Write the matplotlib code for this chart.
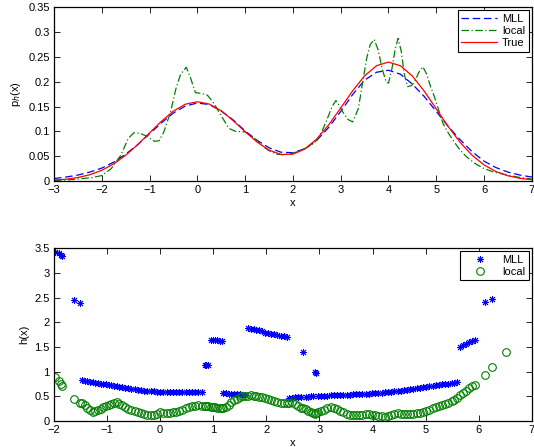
import numpy as np
import matplotlib
matplotlib.use("Agg")
import matplotlib.pyplot as plt

plt.rcParams['font.family'] = ['Liberation Sans', 'DejaVu Sans']
plt.rcParams['font.size'] = 8

# --- oberes Bild: Dichteschaetzung ---
x_true = [-3.0, -2.75, -2.5, -2.25, -2.0, -1.75, -1.5, -1.25, -1.0, -0.75, -0.5, -0.25,
          0.0, 0.25, 0.5, 0.75, 1.0, 1.25, 1.5, 1.75, 2.0, 2.25, 2.5, 2.75, 3.0, 3.25,
          3.5, 3.75, 4.0, 4.25, 4.5, 4.75, 5.0, 5.25, 5.5, 5.75, 6.0, 6.25, 6.5, 6.75, 7.0]
p_true = [0.002, 0.0036, 0.007, 0.0127, 0.0216, 0.0345, 0.0518, 0.073, 0.0968, 0.1204,
          0.1408, 0.1547, 0.1596, 0.1549, 0.1413, 0.1216, 0.0994, 0.0785, 0.0623, 0.0535,
          0.054, 0.0645, 0.0847, 0.1132, 0.147, 0.1815, 0.2117, 0.2322, 0.2394, 0.232,
          0.2113, 0.1807, 0.1452, 0.1096, 0.0777, 0.0518, 0.0324, 0.019, 0.0105, 0.0055, 0.0026]
p_mll = [0.005, 0.008, 0.012, 0.018, 0.026, 0.038, 0.054, 0.073, 0.095, 0.117,
         0.137, 0.151, 0.157, 0.154, 0.141, 0.123, 0.101, 0.082, 0.067, 0.058,
         0.057, 0.065, 0.082, 0.108, 0.140, 0.174, 0.203, 0.219, 0.223, 0.215,
         0.195, 0.170, 0.140, 0.110, 0.083, 0.059, 0.040, 0.027, 0.018, 0.012, 0.008]

x_loc = [-3.0, -2.6, -2.4, -2.2, -2.0, -1.8, -1.6, -1.45, -1.33, -1.2, -1.05, -0.9, -0.8,
         -0.7, -0.56, -0.45, -0.35, -0.23, -0.14, -0.04, 0.1, 0.21, 0.35, 0.49, 0.66, 0.8,
         1.0, 1.1, 1.25, 1.38, 1.52, 1.66, 1.8, 1.94, 2.1, 2.22, 2.38, 2.5, 2.6, 2.71,
         2.82, 2.9, 2.97, 3.05, 3.15, 3.25, 3.37, 3.47, 3.55, 3.62, 3.7, 3.78, 3.87, 3.95,
         4.0, 4.07, 4.14, 4.2, 4.27, 4.33, 4.4, 4.48, 4.55, 4.63, 4.72, 4.8, 4.88, 4.96,
         5.05, 5.14, 5.25, 5.35, 5.5, 5.63, 5.8, 5.98, 6.2, 6.4, 6.7, 7.0]
p_loc = [0.001, 0.003, 0.005, 0.007, 0.011, 0.025, 0.052, 0.085, 0.097, 0.096, 0.090, 0.080, 0.081,
         0.099, 0.139, 0.185, 0.215, 0.229, 0.207, 0.178, 0.176, 0.173, 0.156, 0.133, 0.106, 0.100,
         0.099, 0.093, 0.082, 0.069, 0.060, 0.054, 0.053, 0.055, 0.059, 0.064, 0.072, 0.082, 0.098, 0.123,
         0.150, 0.162, 0.152, 0.138, 0.124, 0.119, 0.146, 0.205, 0.250, 0.275, 0.285, 0.265, 0.225, 0.200,
         0.197, 0.225, 0.265, 0.287, 0.260, 0.215, 0.190, 0.192, 0.200, 0.218, 0.230, 0.215, 0.190, 0.170,
         0.143, 0.116, 0.097, 0.082, 0.062, 0.049, 0.036, 0.026, 0.018, 0.014, 0.008, 0.004]

# --- unteres Bild: Bandbreiten an den Stichprobenpunkten ---
x_s = [-1.98, -1.91, -1.87, -1.84, -1.62, -1.51,
       -1.47, -1.42, -1.37, -1.32, -1.27, -1.22, -1.17, -1.12, -1.07, -1.02, -0.97, -0.92,
       -0.87, -0.82, -0.77, -0.72, -0.66, -0.60, -0.54, -0.48, -0.42, -0.36, -0.30, -0.24,
       -0.18, -0.12, -0.06, 0.00, 0.06, 0.12, 0.18, 0.24, 0.30, 0.36, 0.42, 0.48, 0.54,
       0.60, 0.66, 0.72, 0.78,
       0.84, 0.87, 0.90,
       0.96, 1.00, 1.04, 1.08, 1.12, 1.16,
       1.19, 1.24, 1.29, 1.34, 1.39, 1.44, 1.50, 1.55, 1.60,
       1.66, 1.71, 1.76, 1.81, 1.86, 1.91,
       1.97, 2.03, 2.09, 2.15, 2.21, 2.27, 2.33, 2.38,
       2.42, 2.48, 2.54, 2.60, 2.66,
       2.69,
       2.74, 2.79, 2.84, 2.88,
       2.91, 2.93,
       2.97, 3.03, 3.09, 3.15, 3.21, 3.27, 3.33, 3.39, 3.45, 3.51, 3.57, 3.63, 3.69, 3.75,
       3.81, 3.87, 3.93, 3.99, 4.05, 4.11, 4.17, 4.23, 4.29, 4.35, 4.41, 4.47, 4.53, 4.59,
       4.65, 4.71, 4.77, 4.83, 4.89, 4.95, 5.01, 5.07, 5.13, 5.19, 5.25, 5.31, 5.37, 5.43,
       5.49, 5.54, 5.59,
       5.64, 5.70, 5.76, 5.82, 5.88, 5.93,
       6.12, 6.25, 6.51]
h_mll = [3.43, 3.40, 3.36, 3.34, 2.44, 2.39,
         0.83, 0.82, 0.81, 0.80, 0.79, 0.78, 0.77, 0.76, 0.75, 0.74, 0.73, 0.72,
         0.71, 0.70, 0.69, 0.68, 0.67, 0.66, 0.65, 0.64, 0.63, 0.62, 0.615, 0.61,
         0.605, 0.60, 0.595, 0.59, 0.59, 0.585, 0.585, 0.585, 0.58, 0.58, 0.58, 0.58, 0.58,
         0.58, 0.58, 0.58, 0.58,
         1.13, 1.14, 1.13,
         1.65, 1.65, 1.64, 1.64, 1.63, 1.63,
         0.56, 0.56, 0.55, 0.55, 0.55, 0.54, 0.54, 0.53, 0.53,
         1.88, 1.87, 1.86, 1.85, 1.84, 1.83,
         1.79, 1.78, 1.77, 1.76, 1.74, 1.73, 1.72, 1.71,
         0.47, 0.47, 0.48, 0.48, 0.48,
         1.40,
         0.49, 0.49, 0.50, 0.50,
         0.99, 0.98,
         0.51, 0.51, 0.51, 0.51, 0.52, 0.52, 0.52, 0.52, 0.53, 0.53, 0.53, 0.54, 0.54, 0.54,
         0.55, 0.55, 0.55, 0.56, 0.56, 0.57, 0.57, 0.58, 0.58, 0.59, 0.60, 0.61, 0.61, 0.62,
         0.63, 0.64, 0.65, 0.66, 0.67, 0.68, 0.69, 0.70, 0.71, 0.72, 0.73, 0.74, 0.75, 0.76,
         0.77, 0.78, 0.80,
         1.50, 1.53, 1.56, 1.59, 1.62, 1.64,
         2.41, 2.47, np.nan]
h_loc = [0.90, 0.81, 0.76, 0.71, 0.44, 0.37,
         0.36, 0.33, 0.27, 0.22, 0.18, 0.20, 0.23, 0.25, 0.28, 0.31, 0.33, 0.35,
         0.37, 0.38, 0.35, 0.32, 0.28, 0.25, 0.22, 0.20, 0.18, 0.17, 0.15, 0.13,
         0.12, 0.12, 0.15, 0.19, 0.17, 0.16, 0.17, 0.18, 0.19, 0.20, 0.23, 0.27, 0.29,
         0.30, 0.31, 0.32, 0.31,
         0.30, 0.31, 0.30,
         0.29, 0.28, 0.28, 0.27, 0.26, 0.26,
         0.26, 0.29, 0.33, 0.38, 0.42, 0.45, 0.48, 0.50, 0.51,
         0.51, 0.52, 0.51, 0.50, 0.49, 0.48,
         0.46, 0.44, 0.42, 0.40, 0.38, 0.37, 0.36, 0.36,
         0.37, 0.38, 0.35, 0.31, 0.27,
         0.26,
         0.24, 0.21, 0.18, 0.16,
         0.15, 0.16,
         0.18, 0.21, 0.23, 0.26, 0.29, 0.27, 0.24, 0.21, 0.18, 0.15, 0.13, 0.12, 0.12, 0.13,
         0.13, 0.14, 0.14, 0.13, 0.12, 0.11, 0.10, 0.09, 0.11, 0.13, 0.15, 0.16, 0.15, 0.14,
         0.14, 0.14, 0.15, 0.16, 0.17, 0.18, 0.20, 0.23, 0.26, 0.29, 0.31, 0.33, 0.35, 0.37,
         0.40, 0.43, 0.46,
         0.52, 0.56, 0.61, 0.66, 0.70, 0.73,
         0.93, 1.09, 1.40]

blau = (0, 0, 1)
gruen = (0, 0.5, 0)
rot = (1, 0, 0)

fig = plt.figure(figsize=(5.34, 4.47), dpi=100)
ax1 = fig.add_axes([0.101, 0.595, 0.895, 0.389])
ax2 = fig.add_axes([0.101, 0.058, 0.895, 0.387])

ax1.plot(x_true, p_mll, color=blau, lw=0.9, dashes=(6, 3), label='MLL')
ax1.plot(x_loc, p_loc, color=gruen, lw=0.9, dashes=(6, 2, 1, 2), label='local')
ax1.plot(x_true, p_true, color=rot, lw=0.9, label='True')
ax1.set_xlim(-3, 7)
ax1.set_ylim(0, 0.35)
ax1.set_xticks(range(-3, 8))
ax1.set_yticks(np.arange(0, 0.351, 0.05))
ax1.set_yticklabels(['0', '0.05', '0.1', '0.15', '0.2', '0.25', '0.3', '0.35'])
ax1.set_xlabel('x', labelpad=2)
ax1.set_ylabel('p$_h$(x)', labelpad=4)
leg1 = ax1.legend(loc='upper right', fancybox=False, edgecolor='black', framealpha=1,
                  handlelength=3.2, borderpad=0.3, labelspacing=0.2, handletextpad=0.5,
                  borderaxespad=0.3)
leg1.get_frame().set_linewidth(0.8)

ax2.plot(x_s, h_mll, ls='none', marker=(8, 2, 0), ms=5, mew=0.7, color=blau, label='MLL')
ax2.plot(x_s, h_loc, ls='none', marker='o', ms=5.5, mew=0.8, mfc='none', mec=gruen, label='local')
ax2.set_xlim(-2, 7)
ax2.set_ylim(0, 3.5)
ax2.set_xticks(range(-2, 8))
ax2.set_yticks(np.arange(0, 3.51, 0.5))
ax2.set_yticklabels(['0', '0.5', '1', '1.5', '2', '2.5', '3', '3.5'])
ax2.set_xlabel('x', labelpad=2)
ax2.set_ylabel('h(x)', labelpad=4)
leg2 = ax2.legend(loc='upper right', fancybox=False, edgecolor='black', framealpha=1,
                  handlelength=3.0, borderpad=0.3, labelspacing=0.2, handletextpad=0.5,
                  borderaxespad=0.3)
leg2.get_frame().set_linewidth(0.8)

for ax in (ax1, ax2):
    ax.tick_params(direction='in', top=True, right=True, length=4, width=0.6, pad=3)
    for s in ax.spines.values():
        s.set_linewidth(0.9)

fig.savefig('out.png', dpi=100)
